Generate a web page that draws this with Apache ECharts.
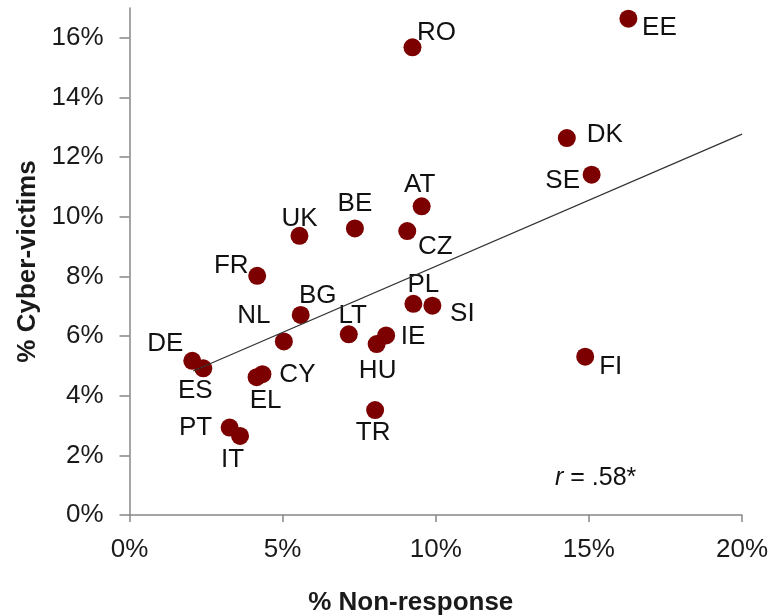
<!DOCTYPE html>
<html>
<head>
<meta charset="utf-8">
<script src="https://cdn.jsdelivr.net/npm/echarts@6/dist/echarts.min.js"></script>
<style>html,body{margin:0;padding:0;background:#fff}#c{width:772px;height:616px}</style>
</head>
<body>
<div id="c"></div>
<script>
const countries = ['EE','RO','DK','SE','AT','BE','UK','CZ','FR','PL','SI','BG','LT','IE','HU','NL','CY','EL','TR','DE','ES','PT','IT','FI'];
const nonResponse = [16.29, 9.24, 14.28, 15.09, 9.54, 7.36, 5.55, 9.07, 4.17, 9.27, 9.89, 5.59, 7.16, 8.38, 8.07, 5.04, 4.34, 4.15, 8.02, 2.05, 2.41, 3.27, 3.61, 14.88];
const cyberVictims = [16.64, 15.68, 12.64, 11.41, 10.35, 9.61, 9.36, 9.52, 8.02, 7.08, 7.02, 6.71, 6.06, 6.02, 5.73, 5.82, 4.72, 4.62, 3.52, 5.17, 4.92, 2.93, 2.65, 5.31];
const trendX = [2.08, 20];
const trendY = [4.83, 12.77];
const xTicks = [0, 5, 10, 15, 20];
const yTicks = [0, 2, 4, 6, 8, 10, 12, 14, 16];
// label offsets (px) of each country label centre from its marker centre
const labelOffsets = {
  EE:[31,9], RO:[24,-15], DK:[38,-3], SE:[-29,6], AT:[-2,-21], BE:[0,-25], UK:[0,-17],
  CZ:[28,16], FR:[-26,-10], PL:[10,-19], SI:[30,8], BG:[17,-19], LT:[4,-18], IE:[27,1],
  HU:[1,27], NL:[-30,-26], CY:[35,1], EL:[9,24], TR:[-2,23], DE:[-27,-17], ES:[-8,22.5],
  PT:[-34,0], IT:[-7.5,24], FI:[25.5,10]
};

const font = '"Liberation Sans", Arial, sans-serif';
const chart = echarts.init(document.getElementById('c'));
const pts = countries.map((c, i) => ({
  value: [nonResponse[i], cyberVictims[i]],
  name: c,
  label: { offset: labelOffsets[c] }
}));
const axisCommon = {
  axisLine: { show: true, lineStyle: { color: '#878787', width: 1.5 } },
  splitLine: { show: false },
  axisLabel: { color: '#1a1a1a', fontSize: 26, fontFamily: font, formatter: '{value}%' }
};
chart.setOption({
  animation: false,
  grid: { left: 129.5, right: 30, top: 8, bottom: 101, containLabel: false, outerBoundsMode: 'none' },
  xAxis: Object.assign({}, axisCommon, {
    type: 'value', min: xTicks[0], max: xTicks[xTicks.length - 1], interval: 5,
    axisTick: { show: true, length: 7, lineStyle: { color: '#878787', width: 1.5 } },
    axisLabel: Object.assign({}, axisCommon.axisLabel, { margin: 22 }),
    name: '% Non-response', nameLocation: 'middle', nameGap: 75,
    nameTextStyle: { fontSize: 26, fontWeight: 'bold', color: '#1a1a1a', fontFamily: font, padding: [0, 50, 0, 0] }
  }),
  yAxis: Object.assign({}, axisCommon, {
    type: 'value', min: yTicks[0], max: 17, interval: 2,
    axisTick: { show: true, length: 10, lineStyle: { color: '#878787', width: 1.5 } },
    axisLabel: Object.assign({}, axisCommon.axisLabel, { margin: 26, showMaxLabel: false }),
    name: '% Cyber-victims', nameLocation: 'middle', nameGap: 88, nameRotate: 90,
    nameTextStyle: { fontSize: 26, fontWeight: 'bold', color: '#1a1a1a', fontFamily: font }
  }),
  series: [
    {
      type: 'scatter',
      symbolSize: 18,
      itemStyle: { color: '#7d0000', opacity: 1 },
      data: pts,
      z: 2,
      label: {
        show: true, position: 'inside', align: 'center', verticalAlign: 'middle',
        formatter: p => p.name, color: '#111', fontSize: 26, fontFamily: font
      }
    },
    {
      type: 'line',
      data: trendX.map((x, i) => [x, trendY[i]]),
      showSymbol: false, symbol: 'none',
      lineStyle: { color: '#333', width: 1.2 },
      z: 3, silent: true
    }
  ],
  graphic: [{
    type: 'text', left: 555, top: 466, z: 10,
    style: {
      text: '{i|r} = .58*',
      rich: { i: { fontStyle: 'italic', fontSize: 25, fontFamily: font, fill: '#111' } },
      fontSize: 25, fontFamily: font, fill: '#111'
    }
  }]
});
</script>
</body>
</html>
